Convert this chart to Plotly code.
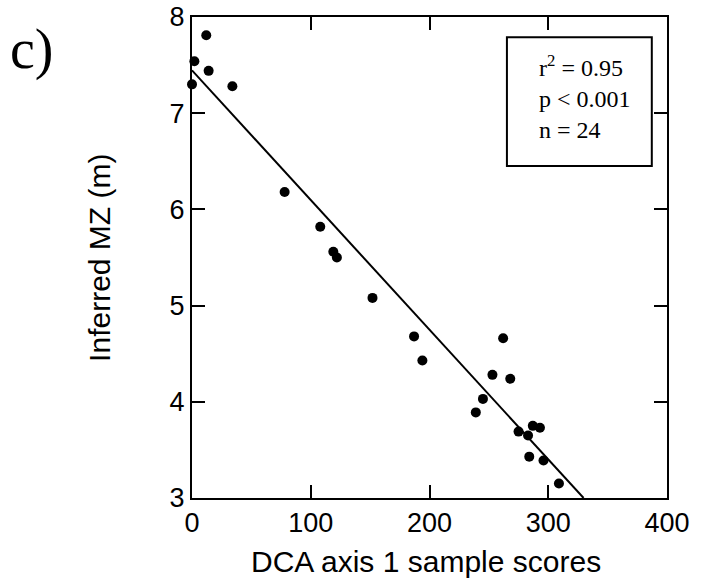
import numpy as np
import plotly.graph_objects as go

# DCA axis 1 sample scores and inferred mixing-zone depth (m)
dca_scores = [12, 2, 14, 0, 34, 78, 108, 119, 122, 152, 187, 194,
              262, 253, 268, 245, 239, 275, 283, 287, 293, 284, 296, 309]
inferred_mz = [7.81, 7.54, 7.44, 7.30, 7.28, 6.18, 5.82, 5.56, 5.50, 5.08, 4.68, 4.43,
               4.66, 4.28, 4.24, 4.03, 3.89, 3.69, 3.65, 3.75, 3.73, 3.43, 3.39, 3.15]

x_ticks = [0, 100, 200, 300, 400]
y_ticks = [3, 4, 5, 6, 7, 8]
stats_lines = ["r<sup>2</sup> = 0.95", "p &lt; 0.001", "n = 24"]

x = np.array(dca_scores, dtype=float)
y = np.array(inferred_mz, dtype=float)
slope, intercept = np.polyfit(x, y, 1)
y_floor = y_ticks[0]
x_end = (y_floor - intercept) / slope
line_x = [0, x_end]
line_y = [intercept, intercept + slope * x_end]

sans = "Liberation Sans, Arial, sans-serif"
serif = "Liberation Serif, Times New Roman, serif"

fig = go.Figure()
fig.add_trace(go.Scatter(x=line_x, y=line_y, mode="lines",
                         line=dict(color="black", width=2), showlegend=False))
fig.add_trace(go.Scatter(x=dca_scores, y=inferred_mz, mode="markers",
                         marker=dict(color="black", size=10), cliponaxis=False,
                         showlegend=False))

axis_common = dict(showgrid=False, zeroline=False, showline=True, linecolor="black",
                   linewidth=2, mirror="ticks", ticks="inside", ticklen=13,
                   tickwidth=2, tickcolor="black", automargin=False,
                   tickfont=dict(family=sans, size=27, color="black"))

fig.update_xaxes(range=[0, 400], tickvals=x_ticks, **axis_common)
fig.update_yaxes(range=[3, 8], tickvals=y_ticks, **axis_common)

# statistics box in the upper right of the plotting area
fig.add_shape(type="rect", xref="paper", yref="paper",
              x0=0.663, x1=0.968, y0=0.690, y1=0.958,
              line=dict(color="black", width=2), fillcolor="white", layer="above")

fig.update_layout(
    width=701, height=581,
    margin=dict(l=192, r=34, t=17, b=83),
    plot_bgcolor="white", paper_bgcolor="white",
    annotations=[
        dict(text="DCA axis 1 sample scores", xref="paper", yref="paper",
             x=(426 - 192) / 475, y=-0.131, xanchor="center", yanchor="middle",
             showarrow=False, font=dict(family=sans, size=30, color="black")),
        dict(text="Inferred MZ (m)", xref="paper", yref="paper",
             x=-0.195, y=0.5, xanchor="center", yanchor="middle", showarrow=False,
             textangle=-90, font=dict(family=sans, size=30, color="black")),
        dict(text="c)", xref="paper", yref="paper",
             x=-0.337, y=0.932, xanchor="center", yanchor="middle", showarrow=False,
             font=dict(family=serif, size=56, color="black")),
        dict(text="<br>".join(stats_lines), xref="paper", yref="paper",
             x=0.726, y=0.834, xanchor="left", yanchor="middle", showarrow=False,
             align="left", font=dict(family=serif, size=24, color="black")),
    ],
)

fig.write_html("out.html")
